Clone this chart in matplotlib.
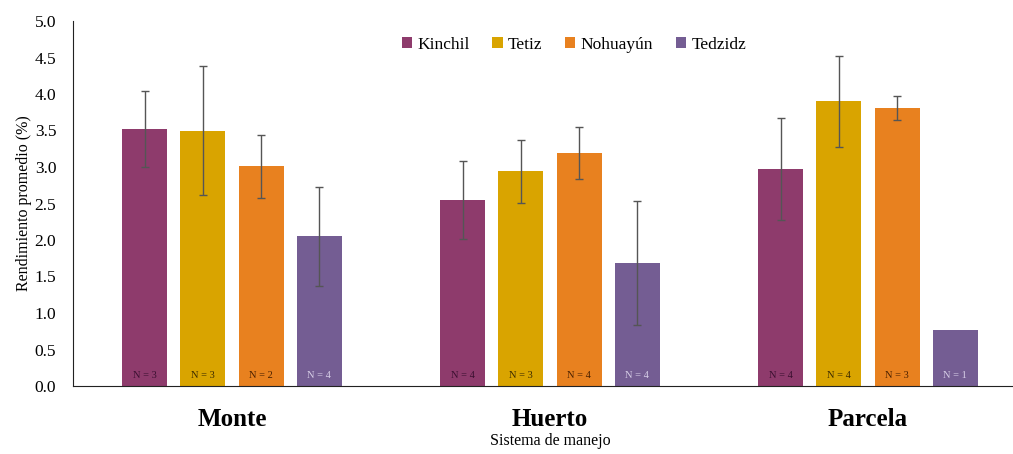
import numpy as np
import matplotlib.pyplot as plt

plt.rcParams['font.family'] = ['Liberation Serif', 'DejaVu Serif']

sistemas = ['Monte', 'Huerto', 'Parcela']
localidades = ['Kinchil', 'Tetiz', 'Nohuayún', 'Tedzidz']
colores = ['#8E3B6C', '#D9A400', '#E8811F', '#745D93']
color_n = ['#3a1030', '#3a2a00', '#4a2000', '#d8cfe8']

# rendimiento promedio por localidad (Monte, Huerto, Parcela)
kinchil = [3.52, 2.55, 2.97]
tetiz = [3.50, 2.94, 3.90]
nohuayun = [3.01, 3.19, 3.81]
tedzidz = [2.05, 1.68, 0.77]

# desviación (barras de error)
err_kinchil = [0.52, 0.53, 0.70]
err_tetiz = [0.88, 0.43, 0.62]
err_nohuayun = [0.43, 0.36, 0.16]
err_tedzidz = [0.68, 0.85, 0.0]

# tamaño de muestra
n_kinchil = [3, 4, 4]
n_tetiz = [3, 3, 4]
n_nohuayun = [2, 4, 3]
n_tedzidz = [4, 4, 1]

valores = [kinchil, tetiz, nohuayun, tedzidz]
errores = [err_kinchil, err_tetiz, err_nohuayun, err_tedzidz]
muestras = [n_kinchil, n_tetiz, n_nohuayun, n_tedzidz]

fig = plt.figure(figsize=(10.13, 4.54), dpi=100)
ax = fig.add_axes([73 / 1013, 68 / 454, 954 / 1013, 365 / 454])

x = np.arange(len(sistemas))
ancho = 0.142
paso = 0.183

for i, (loc, vals, errs, ns, col) in enumerate(zip(localidades, valores, errores, muestras, colores)):
    pos = x + (i - 1.5) * paso
    ax.bar(pos, vals, width=ancho, color=col, label=loc, zorder=2)
    for p, v, e, n in zip(pos, vals, errs, ns):
        if e > 0:
            ax.errorbar(p, v, yerr=e, fmt='none', ecolor='#555555', elinewidth=1.0,
                        capsize=3, capthick=1.0, zorder=3)
        ax.text(p, 0.14, f'N = {n}', ha='center', va='center', fontsize=7.5,
                color=color_n[i], zorder=4)

ax.set_xlim(-0.5, 2.5)
ax.set_ylim(0, 5.0)
ax.set_yticks(np.arange(0, 5.01, 0.5))
ax.set_yticklabels([f'{t:.1f}' for t in np.arange(0, 5.01, 0.5)], fontsize=12.5)
ax.tick_params(axis='y', length=0, pad=12)
ax.tick_params(axis='x', length=0, pad=16)
ax.set_xticks(x)
ax.set_xticklabels(sistemas, fontsize=18, fontweight='bold')
ax.set_xlabel('Sistema de manejo', fontsize=11.5, labelpad=1)
ax.set_ylabel('Rendimiento promedio (%)', fontsize=11.5, labelpad=2)

for s in ['top', 'right']:
    ax.spines[s].set_visible(False)
ax.spines['left'].set_color('#222222')
ax.spines['bottom'].set_color('#222222')

ax.legend(loc='upper center', bbox_to_anchor=(0.525, 1.0), ncol=4, frameon=False,
          fontsize=12.5, handlelength=0.6, handleheight=0.6, handletextpad=0.3,
          columnspacing=1.3)

fig.savefig('out.png', dpi=100)
